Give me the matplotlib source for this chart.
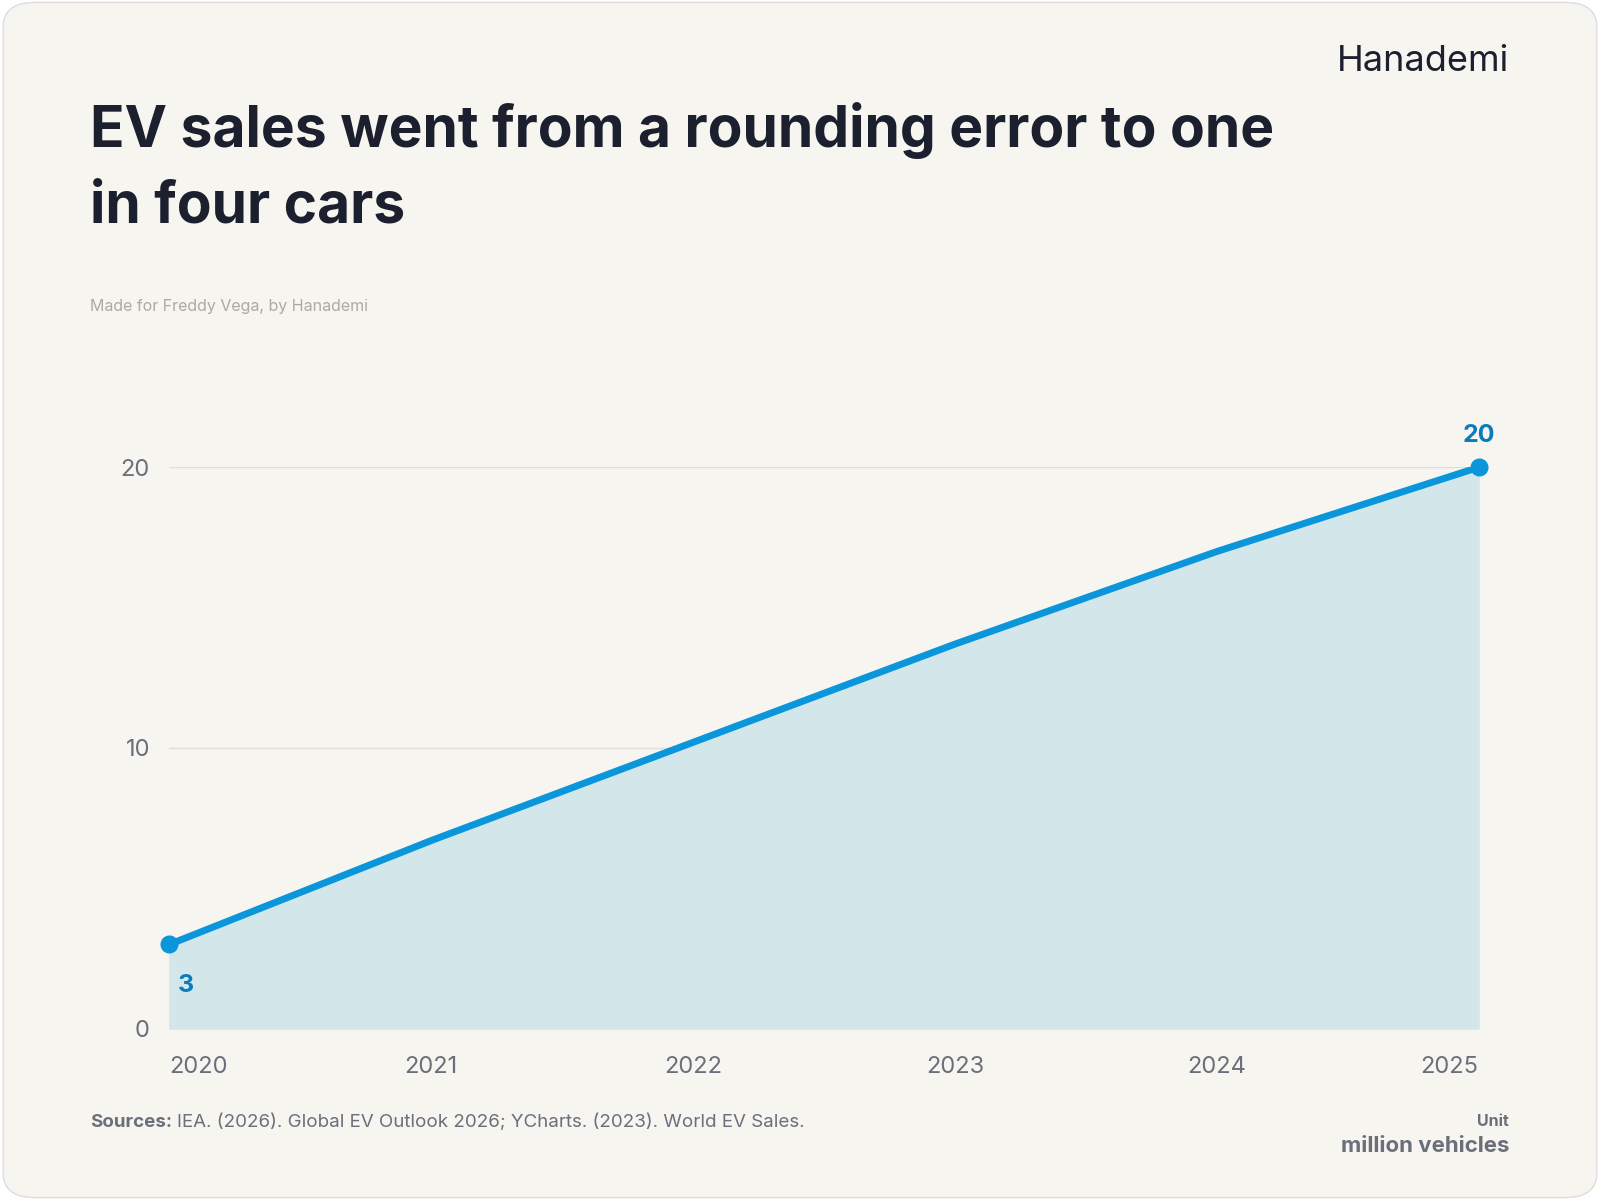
import matplotlib.pyplot as plt
from matplotlib.patches import FancyBboxPatch

years = [2020, 2021, 2022, 2023, 2024, 2025]
sales = [3, 6.7, 10.2, 13.7, 17.0, 20]
yticks = [0, 10, 20]

fig = plt.figure(figsize=(16, 12), dpi=100)
fig.patch.set_facecolor('white')
bg = FancyBboxPatch((0.002, 0.002), 0.996, 0.996, boxstyle='round,pad=0,rounding_size=0.02',
                    transform=fig.transFigure, facecolor='#f6f5f0', edgecolor='#dddddd', lw=1, zorder=-10)
fig.patches.append(bg)
plt.rcParams['font.family'] = ['Inter', 'DejaVu Sans']

def fx(px): return px / 1568
def fy(py): return 1 - py / 1176

ax = fig.add_axes([fx(166), fy(1008), fx(1449) - fx(166), fy(458) - fy(1008)])
ax.set_zorder(5)
ax.set_facecolor('none')
blue = '#0b96dc'
ax.fill_between(years, sales, 0, color='#d3e7eb', zorder=1)
ax.plot(years, sales, color=blue, lw=5, zorder=3, solid_capstyle='round')
ax.plot([years[0], years[-1]], [sales[0], sales[-1]], 'o', color=blue, ms=12, zorder=4, clip_on=False)
ax.set_xlim(years[0], years[-1])
ax.set_ylim(0, 20)
ax.set_yticks(yticks)
ax.grid(axis='y', color='#dddddd', lw=1)
ax.set_axisbelow(True)
for s in ax.spines.values():
    s.set_visible(False)
ax.tick_params(axis='y', length=0, labelsize=17, colors='#6b6f7a', pad=14)
ax.tick_params(axis='x', length=0, labelsize=17, colors='#6b6f7a', pad=20)
ax.set_xticks(years)
ax.set_xticklabels([str(y) for y in years])
lbls = ax.get_xticklabels()
lbls[0].set_ha('left')
lbls[-1].set_ha('right')
ax.annotate('3', (years[0], sales[0]), xytext=(6, -34), textcoords='offset points',
            fontsize=18, fontweight='bold', color='#0a7bbd')
ax.annotate('20', (years[-1], sales[-1]), xytext=(0, 18), textcoords='offset points', ha='center',
            fontsize=18, fontweight='bold', color='#0a7bbd')

fig.text(fx(88), fy(128), 'EV sales went from a rounding error to one', fontsize=41,
         fontweight='bold', color='#1b1f2e', va='center')
fig.text(fx(88), fy(203), 'in four cars', fontsize=41,
         fontweight='bold', color='#1b1f2e', va='center')
fig.text(fx(88), fy(300), 'Made for Freddy Vega, by Hanademi', fontsize=11.5, color='#aaaaaa', va='center')
fig.text(fx(1479), fy(60), 'Hanademi', fontsize=26, color='#1b1f2e', ha='right', va='center')
fig.text(fx(88), fy(1100), 'Sources:', fontsize=13.5, color='#6b6f7a', va='center', fontweight='bold')
fig.text(fx(173), fy(1100), 'IEA. (2026). Global EV Outlook 2026; YCharts. (2023). World EV Sales.',
         fontsize=13.5, color='#6b6f7a', va='center')
fig.text(fx(1479), fy(1099), 'Unit', fontsize=11.5, color='#6b6f7a', ha='right', va='center', fontweight='bold')
fig.text(fx(1479), fy(1123), 'million vehicles', fontsize=16, color='#6b6f7a', ha='right', va='center', fontweight='bold')
fig.savefig('out.png', dpi=100)
